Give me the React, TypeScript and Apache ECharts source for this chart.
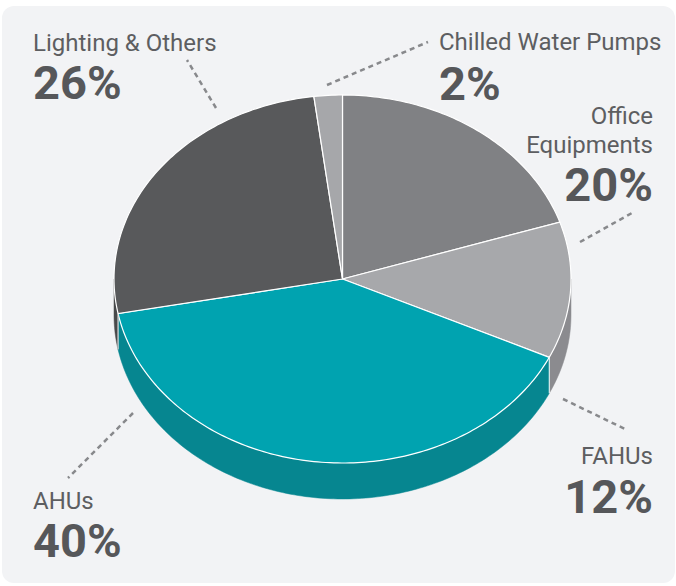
import React, { useEffect, useRef } from 'react';
import * as echarts from 'echarts';

// ---- data ----
const categories = ['Office Equipments', 'FAHUs', 'AHUs', 'Lighting & Others', 'Chilled Water Pumps'];
const values = [20, 12, 40, 26, 2];
const topColors = ['#808184', '#a7a8ab', '#00a3b0', '#58595b', '#a6a7aa'];
const sideColors = ['#6c6d70', '#8b8b8f', '#068690', '#48494b', '#8b8b8f'];

// ---- label layout (positions only) ----
const labelLayout = [
  { wrap: true, x: 653, y: 115.5, align: 'right', gap: 29, pctY: 184 },
  { wrap: false, x: 653, y: 456, align: 'right', gap: 0, pctY: 496 },
  { wrap: false, x: 33, y: 501, align: 'left', gap: 0, pctY: 540 },
  { wrap: false, x: 33, y: 43, align: 'left', gap: 0, pctY: 82.5 },
  { wrap: false, x: 439, y: 42, align: 'left', gap: 0, pctY: 83 },
];
const leaderLines = [
  [[580, 242], [632, 213]],
  [[563, 399], [625, 429]],
  [[133, 413], [68, 478]],
  [[216, 108], [187, 60]],
  [[327, 85], [428, 42]],
];

const CX = 342.5, CY = 279, RX = 228.5, RY = 184, DEPTH = 36;

function pt(t: number, dy = 0) {
  return [CX + RX * Math.sin(t), CY - RY * Math.cos(t) + dy];
}
function arc(t0: number, t1: number, dy: number) {
  const n = Math.max(2, Math.ceil((t1 - t0) / (Math.PI / 180)));
  const out: number[][] = [];
  for (let i = 0; i <= n; i++) out.push(pt(t0 + ((t1 - t0) * i) / n, dy));
  return out;
}

export default function App() {
  const ref = useRef<HTMLDivElement>(null);
  useEffect(() => {
    if (!ref.current) return;
    const chart = echarts.init(ref.current, undefined, { renderer: 'svg' });
    const total = values.reduce((a, b) => a + b, 0);
    let acc = 0;
    const data = values.map((v, i) => {
      const item = { name: categories[i], value: [v, acc] };
      acc += v;
      return item;
    });

    const renderItem = (params: any, api: any) => {
      const i = params.dataIndex;
      const v = api.value(0);
      const s = api.value(1);
      const t0 = (s / total) * Math.PI * 2;
      const t1 = ((s + v) / total) * Math.PI * 2;
      const children: any[] = [];
      const a = Math.max(t0, Math.PI / 2);
      const b = Math.min(t1, (Math.PI * 3) / 2);
      if (b > a) {
        const pts = arc(a, b, 0).concat(arc(a, b, DEPTH).reverse());
        children.push({
          type: 'polygon',
          shape: { points: pts },
          style: { fill: sideColors[i], stroke: sideColors[i], lineWidth: 0.5 },
        });
        if (t0 > Math.PI / 2 && t0 < (Math.PI * 3) / 2) {
          const p0 = pt(t0, 0), p1 = pt(t0, DEPTH);
          children.push({
            type: 'line',
            shape: { x1: p0[0], y1: p0[1], x2: p1[0], y2: p1[1] },
            style: { stroke: '#ffffff', lineWidth: 1 },
          });
        }
      }
      children.push({
        type: 'polygon',
        shape: { points: [[CX, CY]].concat(arc(t0, t1, 0)) },
        style: { fill: topColors[i], stroke: '#ffffff', lineWidth: 1.2 },
      });
      return { type: 'group', children };
    };

    const graphics: any[] = [
      {
        type: 'rect',
        z: -100,
        shape: { x: 2, y: 6, width: 673, height: 577, r: 12 },
        style: { fill: '#f2f3f5' },
      },
    ];
    leaderLines.forEach((l) => {
      graphics.push({
        type: 'line',
        z: 50,
        shape: { x1: l[0][0], y1: l[0][1], x2: l[1][0], y2: l[1][1] },
        style: { stroke: '#88898c', lineWidth: 2.5, lineDash: [5, 4] },
      });
    });
    categories.forEach((name, i) => {
      const L = labelLayout[i];
      const lines = L.wrap ? name.split(' ') : [name];
      lines.forEach((ln, k) => {
        graphics.push({
          type: 'text',
          z: 100,
          style: {
            text: ln,
            x: L.x,
            y: L.y + k * L.gap,
            textAlign: L.align,
            textVerticalAlign: 'middle',
            fontFamily: 'Roboto',
            fontSize: 24,
            fill: '#5d5e61',
          },
        });
      });
      graphics.push({
        type: 'text',
        z: 100,
        style: {
          text: values[i] + '%',
          x: L.x,
          y: L.pctY,
          textAlign: L.align,
          textVerticalAlign: 'middle',
          fontFamily: 'Roboto',
          fontWeight: 'bold',
          fontSize: 47,
          fill: '#56575a',
        },
      });
    });

    chart.setOption({
      animation: false,
      backgroundColor: '#ffffff',
      graphic: graphics,
      series: [
        {
          type: 'custom',
          coordinateSystem: 'none',
          renderItem,
          data,
          z: 10,
        },
      ],
    });
    return () => chart.dispose();
  }, []);
  return (
    <div
      ref={ref}
      style={{ position: 'absolute', left: 0, top: 0, width: 676, height: 586 }}
    />
  );
}
